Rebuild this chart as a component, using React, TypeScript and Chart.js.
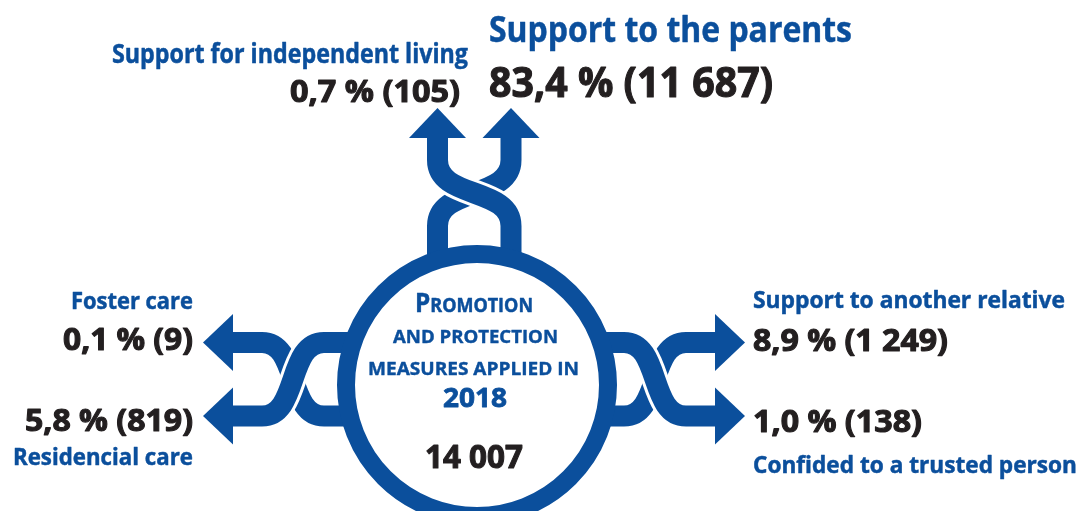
import React, { useEffect, useRef } from "react";
import { Chart, registerables } from "chart.js";

Chart.register(...registerables);

// ---------- DATA ----------
const categories = [
  "Support to the parents",
  "Support for independent living",
  "Foster care",
  "Residencial care",
  "Support to another relative",
  "Confided to a trusted person",
];
const percentages = [83.4, 0.7, 0.1, 5.8, 8.9, 1.0];
const counts = [11687, 105, 9, 819, 1249, 138];
const centerTitle = ["Promotion", "and protection", "measures applied in"];
const measuresYear = 2018;
const measuresTotal = 14007;

// ---------- LAYOUT / STYLE ----------
const W = 1084;
const H = 511;
const BLUE = "#0b4f9c";
const DARK = "#231f20";
const FONT = '"Open Sans", "DejaVu Sans", sans-serif';
const CAP = 0.714;
const SHAFT = 21;
const HEAD_LEN = 30;
const HEAD_HALF = 28.5;

// text boxes: [left x, baseline, cap height, width]
const nameBoxes: number[][] = [
  [489, 42, 25, 363],
  [112, 62.5, 19, 356],
  [71, 309, 17, 122],
  [13, 465, 17, 180],
  [753, 308, 17, 312],
  [753, 473, 17, 324],
];
const valueBoxes: number[][] = [
  [489, 97, 29, 284],
  [290, 102, 22, 170],
  [63, 350, 22, 130],
  [25, 431, 22, 168],
  [753, 351, 22, 195],
  [753, 432, 22, 169],
];
const centerBoxes: number[][] = [
  [415, 312, 19, 118],
  [393, 343, 13, 165],
  [368, 375, 13, 211],
  [443, 407, 19, 64],
  [425, 468, 23, 98],
];

const ring = { cx: 477, cy: 385, r: 131, w: 18 };

type Pt = [number, number];
interface Strand {
  cat: number;
  tip: Pt;
  dir: "up" | "left" | "right";
  p0: Pt;
  p1: Pt;
  p2: Pt;
  p3: Pt;
  vertical: boolean;
  onTop: boolean;
}

const strands: Strand[] = [
  // top crossing
  { cat: 1, tip: [437.5, 108], dir: "up", p0: [437.5, 138], p1: [437.5, 160], p2: [511, 226], p3: [511, 262], vertical: true, onTop: true },
  { cat: 0, tip: [511, 108], dir: "up", p0: [511, 138], p1: [511, 160], p2: [437.5, 226], p3: [437.5, 262], vertical: true, onTop: false },
  // left crossing
  { cat: 2, tip: [203, 342.5], dir: "left", p0: [233, 342.5], p1: [262, 342.5], p2: [324, 416], p3: [358, 416], vertical: false, onTop: false },
  { cat: 3, tip: [203, 416], dir: "left", p0: [233, 416], p1: [262, 416], p2: [324, 342.5], p3: [358, 342.5], vertical: false, onTop: true },
  // right crossing
  { cat: 4, tip: [745, 342.5], dir: "right", p0: [715, 342.5], p1: [686, 342.5], p2: [624, 416], p3: [596, 416], vertical: false, onTop: false },
  { cat: 5, tip: [745, 416], dir: "right", p0: [715, 416], p1: [686, 416], p2: [624, 342.5], p3: [596, 342.5], vertical: false, onTop: true },
];

// ---------- HELPERS ----------
const fmtPct = (v: number) => v.toFixed(1).replace(".", ",") + " %";
const fmtNum = (n: number) => String(n).replace(/\B(?=(\d{3})+(?!\d))/g, " ");

function fitText(
  ctx: CanvasRenderingContext2D,
  text: string,
  x: number,
  baseline: number,
  cap: number,
  width: number,
  color: string,
  weight = 0.7
) {
  const size = cap / CAP;
  ctx.font = `bold ${size}px ${FONT}`;
  const w = ctx.measureText(text).width;
  ctx.save();
  ctx.translate(x, baseline);
  ctx.scale(width / w, 1);
  ctx.fillStyle = color;
  ctx.strokeStyle = color;
  ctx.lineJoin = "round";
  ctx.lineWidth = weight;
  ctx.textAlign = "left";
  ctx.textBaseline = "alphabetic";
  ctx.fillText(text, 0, 0);
  if (weight > 0) ctx.strokeText(text, 0, 0);
  ctx.restore();
}

function smallCaps(
  ctx: CanvasRenderingContext2D,
  text: string,
  x: number,
  baseline: number,
  cap: number,
  width: number,
  color: string,
  weight = 0.5
) {
  const first = text.charAt(0).toUpperCase();
  const rest = text.slice(1).toUpperCase();
  const big = cap / CAP;
  const small = (cap * 0.74) / CAP;
  ctx.font = `bold ${big}px ${FONT}`;
  const w1 = ctx.measureText(first).width;
  ctx.font = `bold ${small}px ${FONT}`;
  const w2 = ctx.measureText(rest).width;
  ctx.save();
  ctx.translate(x, baseline);
  ctx.scale(width / (w1 + w2), 1);
  ctx.fillStyle = color;
  ctx.strokeStyle = color;
  ctx.lineJoin = "round";
  ctx.lineWidth = weight;
  ctx.textAlign = "left";
  ctx.textBaseline = "alphabetic";
  ctx.font = `bold ${big}px ${FONT}`;
  ctx.fillText(first, 0, 0);
  ctx.strokeText(first, 0, 0);
  ctx.font = `bold ${small}px ${FONT}`;
  ctx.fillText(rest, w1, 0);
  ctx.strokeText(rest, w1, 0);
  ctx.restore();
}

const infographicPlugin = {
  id: "infographic",
  afterDraw(chart: any) {
    const ctx: CanvasRenderingContext2D = chart.ctx;
    const sx = chart.scales.x;
    const sy = chart.scales.y;
    const X = (v: number) => sx.getPixelForValue(v);
    const Y = (v: number) => sy.getPixelForValue(v);

    ctx.save();
    ctx.lineCap = "butt";
    ctx.lineJoin = "round";

    const trace = (s: Strand, curveOnly: boolean) => {
      const k = 0.6;
      const c1: Pt = s.vertical
        ? [s.p1[0], s.p1[1] + (s.p2[1] - s.p1[1]) * k]
        : [s.p1[0] + (s.p2[0] - s.p1[0]) * k, s.p1[1]];
      const c2: Pt = s.vertical
        ? [s.p2[0], s.p2[1] - (s.p2[1] - s.p1[1]) * k]
        : [s.p2[0] - (s.p2[0] - s.p1[0]) * k, s.p2[1]];
      ctx.beginPath();
      if (curveOnly) {
        ctx.moveTo(X(s.p1[0]), Y(s.p1[1]));
      } else {
        ctx.moveTo(X(s.p0[0]), Y(s.p0[1]));
        ctx.lineTo(X(s.p1[0]), Y(s.p1[1]));
      }
      ctx.bezierCurveTo(X(c1[0]), Y(c1[1]), X(c2[0]), Y(c2[1]), X(s.p2[0]), Y(s.p2[1]));
      if (!curveOnly) ctx.lineTo(X(s.p3[0]), Y(s.p3[1]));
      ctx.stroke();
    };

    const head = (s: Strand) => {
      const [tx, ty] = s.tip;
      ctx.beginPath();
      if (s.dir === "up") {
        ctx.moveTo(X(tx), Y(ty));
        ctx.lineTo(X(tx + HEAD_HALF), Y(ty + HEAD_LEN));
        ctx.lineTo(X(tx - HEAD_HALF), Y(ty + HEAD_LEN));
      } else if (s.dir === "left") {
        ctx.moveTo(X(tx), Y(ty));
        ctx.lineTo(X(tx + HEAD_LEN), Y(ty - HEAD_HALF));
        ctx.lineTo(X(tx + HEAD_LEN), Y(ty + HEAD_HALF));
      } else {
        ctx.moveTo(X(tx), Y(ty));
        ctx.lineTo(X(tx - HEAD_LEN), Y(ty - HEAD_HALF));
        ctx.lineTo(X(tx - HEAD_LEN), Y(ty + HEAD_HALF));
      }
      ctx.closePath();
      ctx.fill();
    };

    // under strands
    ctx.strokeStyle = BLUE;
    ctx.lineWidth = SHAFT;
    strands.filter((s) => !s.onTop).forEach((s) => trace(s, false));
    // white outline of top strands
    ctx.strokeStyle = "#ffffff";
    ctx.lineWidth = SHAFT + 6;
    strands.filter((s) => s.onTop).forEach((s) => trace(s, true));
    ctx.strokeStyle = BLUE;
    ctx.lineWidth = SHAFT;
    strands.filter((s) => s.onTop).forEach((s) => trace(s, false));
    // heads
    ctx.fillStyle = BLUE;
    strands.forEach((s) => head(s));

    // ring
    ctx.beginPath();
    ctx.arc(X(ring.cx), Y(ring.cy), ring.r, 0, Math.PI * 2);
    ctx.fillStyle = "#ffffff";
    ctx.fill();
    ctx.strokeStyle = BLUE;
    ctx.lineWidth = ring.w;
    ctx.stroke();
    ctx.restore();

    // labels
    categories.forEach((name, i) => {
      const nb = nameBoxes[i];
      fitText(ctx, name, X(nb[0]), Y(nb[1]), nb[2], nb[3], BLUE, 0.5);
      const vb = valueBoxes[i];
      const val = `${fmtPct(percentages[i])} (${fmtNum(counts[i])})`;
      fitText(ctx, val, X(vb[0]), Y(vb[1]), vb[2], vb[3], DARK, 1.1);
    });

    // center text
    const cb = centerBoxes;
    smallCaps(ctx, centerTitle[0], X(cb[0][0]), Y(cb[0][1]), cb[0][2], cb[0][3], BLUE, 0.5);
    fitText(ctx, centerTitle[1].toUpperCase(), X(cb[1][0]), Y(cb[1][1]), cb[1][2], cb[1][3], BLUE, 0.4);
    fitText(ctx, centerTitle[2].toUpperCase(), X(cb[2][0]), Y(cb[2][1]), cb[2][2], cb[2][3], BLUE, 0.4);
    fitText(ctx, String(measuresYear), X(cb[3][0]), Y(cb[3][1]), cb[3][2], cb[3][3], BLUE, 0.8);
    fitText(ctx, fmtNum(measuresTotal), X(cb[4][0]), Y(cb[4][1]), cb[4][2], cb[4][3], DARK, 1.1);
  },
};

export default function App() {
  const ref = useRef<HTMLCanvasElement | null>(null);
  useEffect(() => {
    if (!ref.current) return;
    const chart = new Chart(ref.current, {
      type: "scatter",
      data: { datasets: [] },
      options: {
        animation: false,
        responsive: false,
        maintainAspectRatio: false,
        layout: { padding: 0 },
        plugins: { legend: { display: false }, tooltip: { enabled: false } },
        scales: {
          x: { type: "linear", min: 0, max: W, display: false },
          y: { type: "linear", min: 0, max: H, reverse: true, display: false },
        },
      },
      plugins: [infographicPlugin],
    } as any);
    let alive = true;
    if ((document as any).fonts) {
      (document as any).fonts.load(`bold 20px "Open Sans"`).then(() => {
        if (alive) chart.update();
      });
    }
    return () => {
      alive = false;
      chart.destroy();
    };
  }, []);
  return (
    <div style={{ position: "fixed", left: 0, top: 0, width: W, height: H, background: "#fff" }}>
      <canvas ref={ref} width={W} height={H} style={{ width: W, height: H, display: "block" }} />
    </div>
  );
}
